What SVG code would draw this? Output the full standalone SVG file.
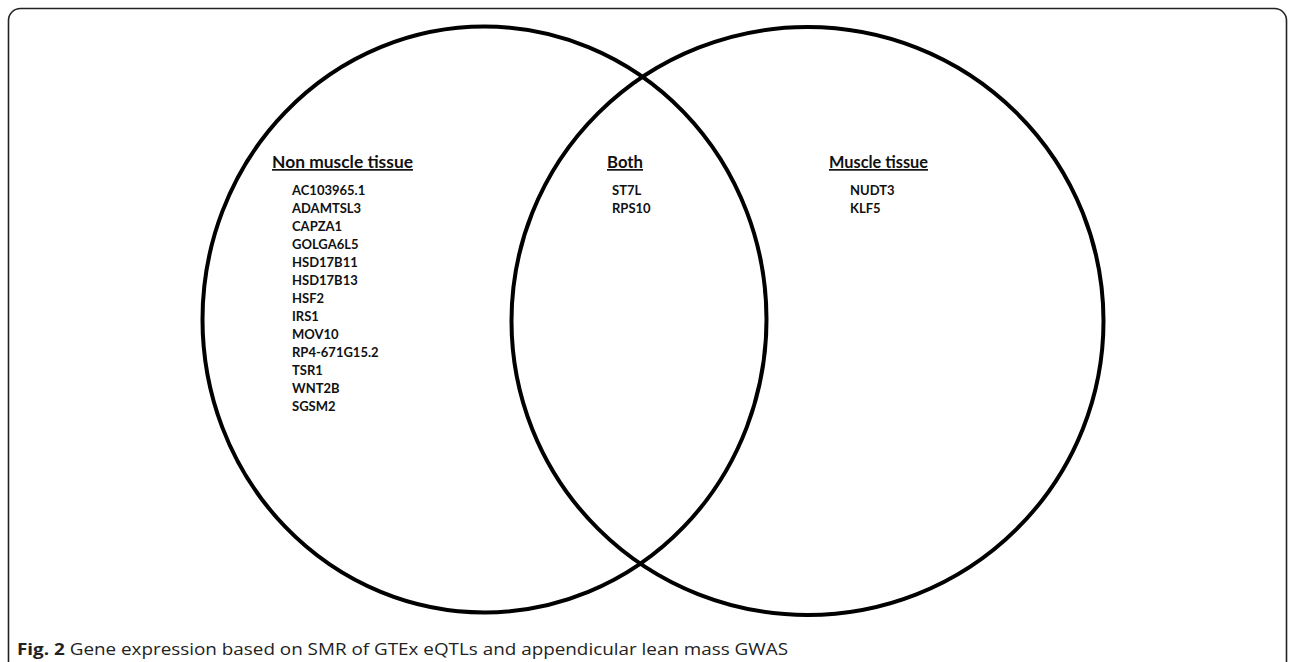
<svg xmlns="http://www.w3.org/2000/svg" width="1295" height="662" viewBox="0 0 1295 662">
<style>
.frame{fill:#fff;stroke:#222;stroke-width:1.6}
.set{fill:none;stroke:#000;stroke-width:4}
.title{font-family:Lato,"Open Sans",sans-serif;font-weight:bold;font-size:17px;fill:#111;text-decoration:underline}
.gene{font-family:Lato,"Open Sans",sans-serif;font-weight:bold;font-size:13px;fill:#111}
.cap{font-family:"Open Sans","Liberation Sans",sans-serif;font-size:16px;fill:#222}
</style>
<rect width="1295" height="662" fill="#fff"/>
<rect class="frame" x="8.5" y="8.5" width="1278" height="665" rx="12"/>
<g id="connectors">
<ellipse id="set-left" class="set" cx="484.5" cy="319.5" rx="282" ry="293"/>
<ellipse id="set-right" class="set" cx="807.5" cy="321" rx="296" ry="294"/>
</g>
<g id="non-muscle">
<text class="title" x="272" y="168" textLength="141" lengthAdjust="spacingAndGlyphs">Non muscle tissue</text>
<text class="gene" x="292" y="195">AC103965.1</text>
<text class="gene" x="292" y="213">ADAMTSL3</text>
<text class="gene" x="292" y="231">CAPZA1</text>
<text class="gene" x="292" y="249">GOLGA6L5</text>
<text class="gene" x="292" y="267">HSD17B11</text>
<text class="gene" x="292" y="285">HSD17B13</text>
<text class="gene" x="292" y="303">HSF2</text>
<text class="gene" x="292" y="321">IRS1</text>
<text class="gene" x="292" y="339">MOV10</text>
<text class="gene" x="292" y="357">RP4-671G15.2</text>
<text class="gene" x="292" y="375">TSR1</text>
<text class="gene" x="292" y="393">WNT2B</text>
<text class="gene" x="292" y="411">SGSM2</text>
</g>
<g id="both">
<text class="title" x="607" y="168" textLength="36" lengthAdjust="spacingAndGlyphs">Both</text>
<text class="gene" x="612" y="195">ST7L</text>
<text class="gene" x="612" y="213">RPS10</text>
</g>
<g id="muscle">
<text class="title" x="829" y="168" textLength="99" lengthAdjust="spacingAndGlyphs">Muscle tissue</text>
<text class="gene" x="850" y="195">NUDT3</text>
<text class="gene" x="850" y="213">KLF5</text>
</g>
<text class="cap" x="17" y="655" textLength="771" lengthAdjust="spacingAndGlyphs"><tspan font-weight="bold">Fig. 2</tspan> Gene expression based on SMR of GTEx eQTLs and appendicular lean mass GWAS</text>
</svg>
